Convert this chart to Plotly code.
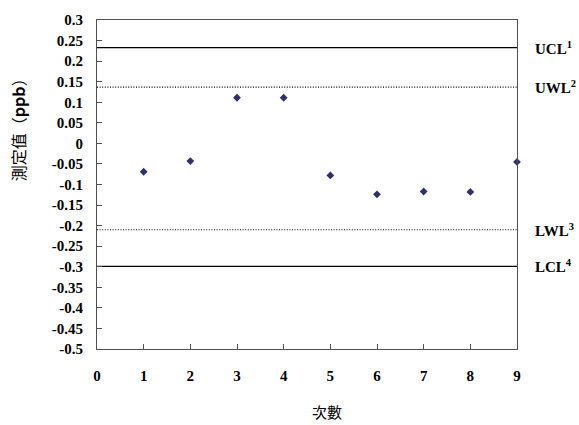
import plotly.graph_objects as go

# ---- data ----
runs = [1, 2, 3, 4, 5, 6, 7, 8, 9]
measured = [-0.069, -0.043, 0.111, 0.111, -0.078, -0.124, -0.117, -0.118, -0.045]

limit_names = ["UCL", "UWL", "LWL", "LCL"]
limit_sups = ["1", "2", "3", "4"]
limit_values = [0.233, 0.137, -0.210, -0.299]
limit_dash = ["solid", "1px,1.6px", "1px,1.6px", "solid"]

y_tickvals = [0.3, 0.25, 0.2, 0.15, 0.1, 0.05, 0, -0.05, -0.1, -0.15, -0.2,
              -0.25, -0.3, -0.35, -0.4, -0.45, -0.5]
y_ticktext = ["0.3", "0.25", "0.2", "0.15", "0.1", "0.05", "0", "-0.05", "-0.1",
              "-0.15", "-0.2", "-0.25", "-0.3", "-0.35", "-0.4", "-0.45", "-0.5"]
x_tickvals = [0, 1, 2, 3, 4, 5, 6, 7, 8, 9]

x_title = "次數"
y_title = "測定值（<b>ppb</b>）"

SERIF = "Liberation Serif, Times New Roman, serif"
CJK = "Noto Sans CJK TC, Noto Sans CJK SC, sans-serif"

fig = go.Figure()

x_lo, x_hi = x_tickvals[0], x_tickvals[-1]
for name, val, dash in zip(limit_names, limit_values, limit_dash):
    fig.add_trace(go.Scatter(
        x=[x_lo, x_hi], y=[val, val], mode="lines",
        line=dict(color="#000000", width=1.2, dash=dash),
        hoverinfo="skip", showlegend=False, cliponaxis=False))

fig.add_trace(go.Scatter(
    x=runs, y=measured, mode="markers",
    marker=dict(symbol="diamond", size=6, color="#2f2f6b"),
    showlegend=False, cliponaxis=False))

for name, sup, val in zip(limit_names, limit_sups, limit_values):
    fig.add_annotation(
        x=1.038, xref="paper", y=val, yref="y",
        text=f"<b>{name}<sup>{sup}</sup></b>", showarrow=False,
        xanchor="left", yanchor="middle",
        font=dict(family=SERIF, size=15, color="#000000"))

fig.add_annotation(
    x=-0.188, xref="paper", y=0.677, yref="paper",
    text=y_title, textangle=-90, showarrow=False,
    xanchor="center", yanchor="middle",
    font=dict(family=CJK, size=16, color="#000000"))

fig.add_annotation(
    x=0.548, xref="paper", y=-0.19, yref="paper",
    text=x_title, showarrow=False,
    xanchor="center", yanchor="middle",
    font=dict(family=CJK, size=15, color="#000000"))

axis_common = dict(
    showline=True, mirror=True, linecolor="#505050", linewidth=1.2,
    ticks="inside", ticklen=5, tickcolor="#505050", tickwidth=1.2,
    showgrid=False, zeroline=False,
    tickfont=dict(family=SERIF, size=15, color="#000000"),
)

fig.update_xaxes(range=[x_lo, x_hi], tickvals=x_tickvals,
                 ticktext=[f"<b>{v}</b>" for v in x_tickvals],
                 ticklabelstandoff=13, **axis_common)
fig.update_yaxes(range=[-0.5, 0.3], tickvals=y_tickvals,
                 ticktext=[f"<b>{t}</b>" for t in y_ticktext],
                 ticklabelstandoff=10, **axis_common)

fig.update_layout(
    width=579, height=425,
    margin=dict(l=97, r=62, t=15, b=76, pad=0),
    paper_bgcolor="#ffffff", plot_bgcolor="#ffffff",
    showlegend=False,
)

fig.write_html(
    "out.html",
    config={"displayModeBar": False},
    post_script="document.body.style.margin='0';document.body.style.overflow='hidden';",
)
